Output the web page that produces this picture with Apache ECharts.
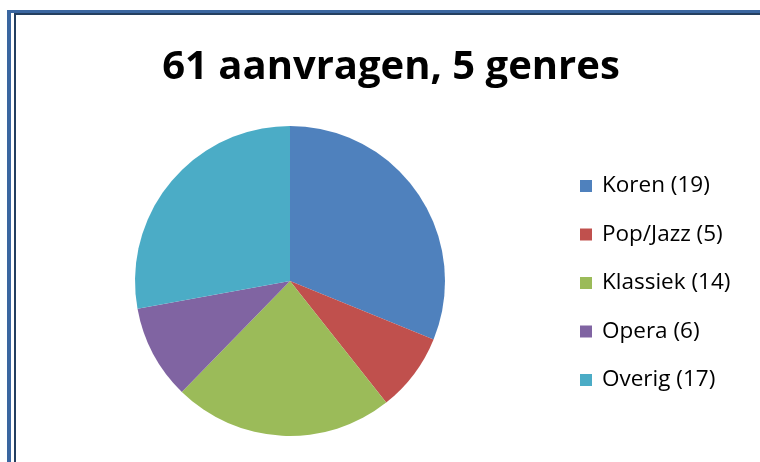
<!DOCTYPE html>
<html><head><meta charset="utf-8">
<script src="https://cdn.jsdelivr.net/npm/echarts@6/dist/echarts.min.js"></script>
<style>html,body{margin:0;padding:0;background:#fff}#c{width:760px;height:462px}</style>
</head><body><div id="c"></div>
<script>
const titleText = '61 aanvragen, 5 genres';
const categories = ['Koren', 'Pop/Jazz', 'Klassiek', 'Opera', 'Overig'];
const values = [19, 5, 14, 6, 17];
const colors = ['#4f81bd', '#c0504d', '#9bbb59', '#8064a2', '#4bacc6'];

const chart = echarts.init(document.getElementById('c'), null, {renderer: 'canvas'});
const data = categories.map((c, i) => ({name: c + ' (' + values[i] + ')', value: values[i]}));
chart.setOption({
  animation: false,
  backgroundColor: '#ffffff',
  color: colors,
  title: {
    text: titleText,
    left: 391, top: 48, textAlign: 'center', padding: 0,
    textStyle: {fontFamily: 'Open Sans', fontWeight: 'bold', fontSize: 40, color: '#000'}
  },
  legend: {
    orient: 'vertical', left: 580, top: 174, padding: 0,
    itemWidth: 12, itemHeight: 12, itemGap: 24.5,
    icon: 'rect',
    textStyle: {fontFamily: 'Open Sans', fontSize: 22.5, color: '#000', lineHeight: 24, padding: [0,0,0,5]}
  },
  graphic: [
    {type: 'rect', shape: {x: 7, y: 10, width: 4, height: 452}, style: {fill: '#3a66a0'}},
    {type: 'rect', shape: {x: 14, y: 13, width: 2, height: 449}, style: {fill: '#243f60'}},
    {type: 'rect', shape: {x: 7, y: 10, width: 753, height: 3}, style: {fill: '#3a66a0'}},
    {type: 'rect', shape: {x: 14, y: 13, width: 746, height: 2}, style: {fill: '#243f60'}}
  ],
  series: [{
    type: 'pie',
    center: [290, 281], radius: 155,
    startAngle: 90, clockwise: true,
    label: {show: false}, labelLine: {show: false},
    itemStyle: {borderWidth: 0},
    data: data
  }]
});
</script></body></html>
